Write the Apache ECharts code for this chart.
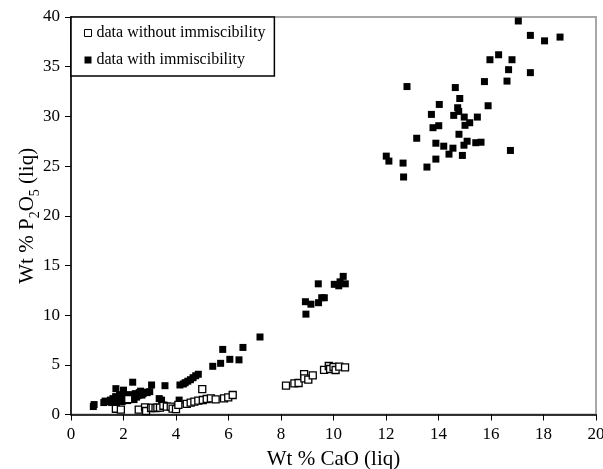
<!DOCTYPE html>
<html><head><meta charset="utf-8">
<script src="https://cdn.jsdelivr.net/npm/echarts@6/dist/echarts.min.js"></script>
<style>html,body{margin:0;padding:0;background:#fff}#c{width:603px;height:469px}</style>
</head><body><div id="c"></div>
<script>
var xTicks = [0,2,4,6,8,10,12,14,16,18,20];
var yTicks = [0,5,10,15,20,25,30,35,40];
var seriesNames = ['data without immiscibility','data with immiscibility'];

var withoutImm = [
 [1.71,0.58],[1.9,0.5],[2.18,1.55],[2.58,0.5],[2.82,0.72],[2.86,0.35],[3.05,0.65],[3.11,0.7],[3.22,0.65],[3.29,0.7],
 [3.39,0.7],[3.52,0.88],[3.65,0.8],[3.8,0.8],[3.87,0.6],[4.0,0.55],[4.09,0.96],[4.41,1.06],[4.56,1.19],[4.7,1.29],
 [4.85,1.39],[5.0,2.55],[5.02,1.46],[5.17,1.56],[5.33,1.63],[5.51,1.53],[5.83,1.63],[5.99,1.73],[6.16,1.96],
 [8.19,2.9],[8.51,3.14],[8.67,3.17],[8.88,4.07],[8.89,3.64],[9.04,3.5],[9.21,3.94],[9.64,4.5],[9.82,4.88],[9.87,4.58],
 [10.0,4.78],[10.08,4.48],[10.22,4.81],[10.44,4.75]
];

var withImm = [
 [0.85,0.8],[0.88,1.0],[1.25,1.2],[1.3,1.35],[1.4,1.3],[1.5,1.45],[1.55,1.2],[1.6,1.6],[1.65,1.4],[1.7,1.8],
 [1.71,2.6],[1.75,1.3],[1.8,1.55],[1.85,2.0],[1.9,1.7],[1.95,1.3],[2.0,2.45],[2.0,1.5],[2.05,1.9],[2.1,1.75],
 [2.15,1.4],[2.2,2.0],[2.25,1.6],[2.3,1.85],[2.35,3.25],[2.4,1.5],[2.45,2.1],[2.5,1.75],[2.55,1.9],[2.6,2.2],
 [2.65,2.35],[2.7,1.95],[2.75,2.1],[2.8,2.25],[2.9,2.2],[3.0,2.3],[3.07,2.97],[3.36,1.6],[3.45,1.45],[3.58,2.9],
 [4.12,1.45],[4.15,2.97],[4.28,3.07],[4.35,3.2],[4.45,3.35],[4.55,3.5],[4.65,3.7],[4.75,3.9],[4.85,4.05],
 [5.4,4.85],[5.7,5.15],[5.78,6.55],[6.05,5.55],[6.4,5.5],[6.55,6.75],[7.2,7.8],
 [8.95,10.1],[8.93,11.35],[9.14,11.1],[9.43,11.25],[9.55,11.75],[9.65,11.75],[9.42,13.15],[10.03,13.1],[10.2,12.95],
 [10.25,13.35],[10.37,13.9],[10.45,13.15],
 [17.04,39.6],[17.5,38.15],[18.04,37.6],[18.63,37.98],[15.96,35.7],[16.29,36.2],[16.8,35.7],[16.67,34.7],[17.5,34.4],
 [15.75,33.5],[16.61,33.55],[12.8,33.0],[14.64,32.9],[14.81,31.8],[14.03,31.2],[15.89,31.07],[14.73,30.87],[13.73,30.2],
 [14.77,30.5],[14.58,30.1],[14.98,29.93],[15.48,29.93],[14.01,29.06],[13.79,28.86],[15.19,29.36],[15.01,29.1],[14.78,28.2],
 [13.17,27.8],[13.9,27.3],[14.2,27.0],[15.09,27.5],[14.97,27.1],[15.42,27.35],[15.62,27.4],[14.55,26.8],[14.4,26.2],
 [14.91,26.07],[16.74,26.57],[12.01,26.0],[12.11,25.5],[12.65,25.3],[13.9,25.7],[13.56,24.9],[12.67,23.9]
];

var font = '"Liberation Serif","Times New Roman",serif';
var chart = echarts.init(document.getElementById('c'));
chart.setOption({
  animation: false,
  backgroundColor: '#fff',
  grid: {left: 71, right: 7, top: 17, bottom: 54.5, containLabel: false, outerBoundsMode: 'none',
         show: true, borderColor: '#a8a8a8', borderWidth: 2, backgroundColor: 'transparent'},
  legend: {
    left: 71, top: 17, orient: 'vertical',
    backgroundColor: '#fff', borderColor: '#000', borderWidth: 1.5, borderRadius: 0,
    padding: [8, 9, 8, 13], itemGap: 11, itemWidth: 7, itemHeight: 7,
    textStyle: {fontFamily: font, fontSize: 16, color: '#000'},
    data: [
      {name: seriesNames[0], icon: 'rect', itemStyle: {color: '#fff', borderColor: '#000', borderWidth: 1}},
      {name: seriesNames[1], icon: 'rect', itemStyle: {color: '#000'}}
    ]
  },
  xAxis: {
    type: 'value', min: xTicks[0], max: xTicks[xTicks.length-1], interval: 2,
    name: 'Wt % CaO (liq)', nameLocation: 'middle', nameGap: 34, nameMoveOverlap: false,
    nameTextStyle: {fontFamily: font, fontSize: 21, color: '#000'},
    axisLine: {show: true, onZero: false, lineStyle: {color: '#000', width: 1.5}},
    axisTick: {show: true, inside: false, length: 6, lineStyle: {color: '#000'}},
    axisLabel: {fontFamily: font, fontSize: 17, color: '#000', margin: 12},
    splitLine: {show: false}
  },
  yAxis: {
    type: 'value', min: yTicks[0], max: yTicks[yTicks.length-1], interval: 5,
    name: '{a|Wt % P}{s|2}{a|O}{s|5}{a| (liq)}', nameLocation: 'middle', nameGap: 33, nameMoveOverlap: false,
    nameTextStyle: {fontFamily: font, fontSize: 21, color: '#000',
      rich: {a: {fontFamily: font, fontSize: 21, color: '#000', lineHeight: 25, verticalAlign: 'bottom'},
             s: {fontFamily: font, fontSize: 14, color: '#000', lineHeight: 25, verticalAlign: 'bottom', padding: [0,0,-4,0]}}},
    axisLine: {show: true, onZero: false, lineStyle: {color: '#000', width: 1.5}},
    axisTick: {show: true, inside: false, length: 6, lineStyle: {color: '#000'}},
    axisLabel: {fontFamily: font, fontSize: 17, color: '#000', margin: 11},
    splitLine: {show: false}
  },
  series: [
    {name: seriesNames[0], type: 'scatter', data: withoutImm, symbol: 'rect', symbolSize: 7,
     itemStyle: {color: '#fff', borderColor: '#000', borderWidth: 1.3, opacity: 1}, z: 3},
    {name: seriesNames[1], type: 'scatter', data: withImm, symbol: 'rect', symbolSize: 7,
     itemStyle: {color: '#000', opacity: 1}, z: 2}
  ]
});
</script></body></html>
